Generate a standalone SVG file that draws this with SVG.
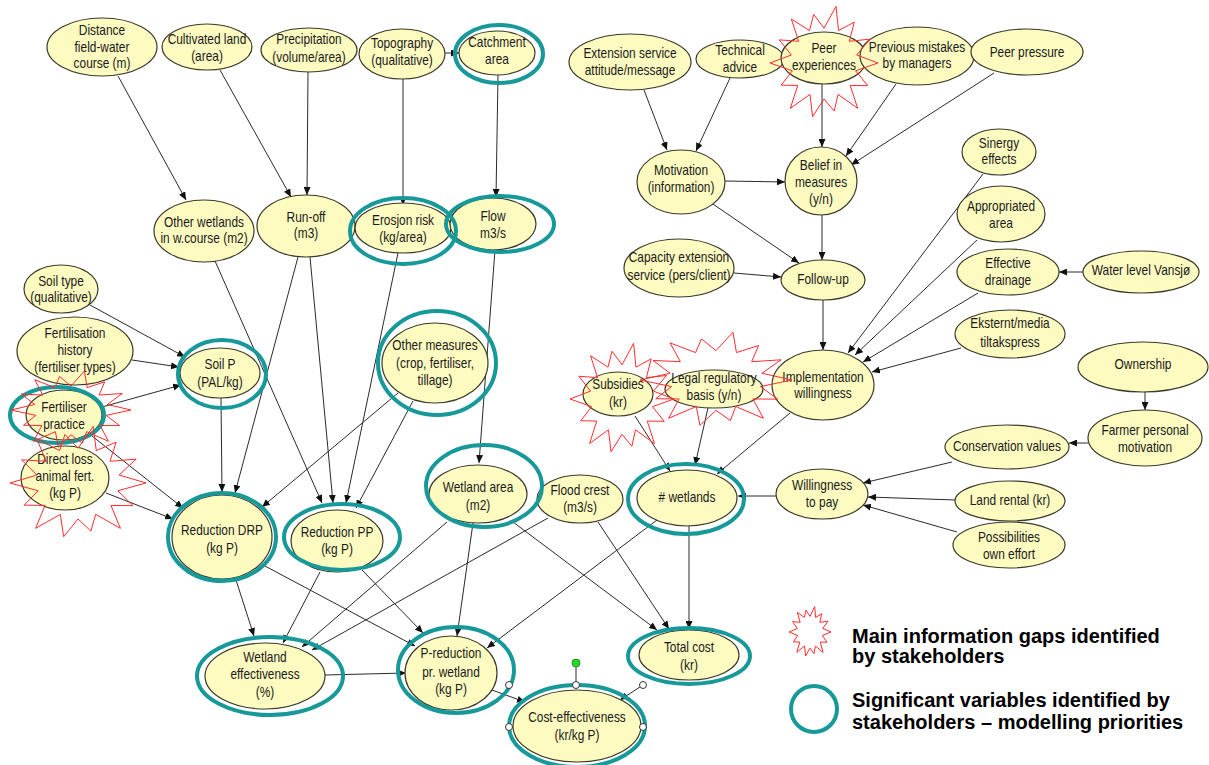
<svg xmlns="http://www.w3.org/2000/svg" xmlns:xlink="http://www.w3.org/1999/xlink" width="1209" height="765" viewBox="0 0 1209 765">
<style>
.n ellipse{fill:#fdfbc0;stroke:#3a3a2a;stroke-width:1.2}
.n text{font-family:"Liberation Sans",Arial,sans-serif;font-size:14px;fill:#1a1a1a;text-anchor:middle}
.ring{fill:none;stroke:#189999;stroke-width:4}
.burst{fill:none;stroke:#ff2d2d;stroke-width:1}
#connectors line{stroke:#2a2a2a;stroke-width:1;marker-end:url(#ah)}
.legend text{font-family:"Liberation Sans",Arial,sans-serif;font-size:20px;font-weight:bold;fill:#000}
.h{fill:#fff;stroke:#333;stroke-width:1}
</style>
<defs>
<marker id="ah" markerUnits="userSpaceOnUse" markerWidth="8" markerHeight="7" refX="8" refY="3.5" orient="auto"><path d="M0,0 L8,3.5 L0,7 z" fill="#111"/></marker>
<polygon id="burstshape" vector-effect="non-scaling-stroke" points="1,0 .585,.134 .811,.391 .485,.387 .624,.782 .26,.541 .189,.829 0,.62 -.211,.926 -.26,.541 -.624,.782 -.485,.387 -.793,.382 -.585,.134 -1,0 -.604,-.138 -.829,-.399 -.469,-.374 -.605,-.758 -.269,-.559 -.191,-.838 0,-.6 .223,-.975 .269,-.559 .561,-.704 .469,-.374 .856,-.412 .604,-.138"/>
</defs>
<rect width="1209" height="765" fill="#fff"/>
<g id="connectors">
<line x1="118" y1="76" x2="186" y2="200"/>
<line x1="220" y1="70" x2="291" y2="197"/>
<line x1="308" y1="72" x2="307" y2="195"/>
<line x1="403" y1="79" x2="403" y2="205"/>
<line x1="445" y1="53" x2="459" y2="53"/>
<line x1="498" y1="75" x2="496" y2="197"/>
<line x1="215" y1="261" x2="322" y2="503"/>
<line x1="298" y1="257" x2="235" y2="493"/>
<line x1="310" y1="257" x2="333" y2="503"/>
<line x1="398" y1="253" x2="346" y2="503"/>
<line x1="398" y1="393" x2="262" y2="507"/>
<line x1="413" y1="401" x2="356" y2="508"/>
<line x1="495" y1="250" x2="479" y2="463"/>
<line x1="90" y1="305" x2="185" y2="357"/>
<line x1="132" y1="360" x2="179" y2="367"/>
<line x1="102" y1="407" x2="181" y2="385"/>
<line x1="92" y1="436" x2="183" y2="508"/>
<line x1="106" y1="493" x2="173" y2="519"/>
<line x1="221" y1="398" x2="222" y2="492"/>
<line x1="236" y1="580" x2="254" y2="636"/>
<line x1="320" y1="572" x2="283" y2="643"/>
<line x1="447" y1="522" x2="302" y2="647"/>
<line x1="548" y1="518" x2="312" y2="650"/>
<line x1="265" y1="566" x2="415" y2="646"/>
<line x1="362" y1="570" x2="423" y2="633"/>
<line x1="473" y1="523" x2="457" y2="636"/>
<line x1="657" y1="520" x2="487" y2="648"/>
<line x1="325" y1="675" x2="406" y2="673"/>
<line x1="513" y1="522" x2="657" y2="630"/>
<line x1="598" y1="522" x2="669" y2="629"/>
<line x1="689" y1="526" x2="689" y2="629"/>
<line x1="492" y1="690" x2="525" y2="702"/>
<line x1="643" y1="685" x2="620" y2="700"/>
<line x1="635" y1="416" x2="670" y2="471"/>
<line x1="708" y1="408" x2="695" y2="465"/>
<line x1="790" y1="413" x2="717" y2="474"/>
<line x1="776" y1="496" x2="738" y2="496"/>
<line x1="952" y1="462" x2="863" y2="483"/>
<line x1="956" y1="500" x2="868" y2="497"/>
<line x1="957" y1="532" x2="863" y2="505"/>
<line x1="1088" y1="443" x2="1069" y2="443"/>
<line x1="1145" y1="392" x2="1145" y2="410"/>
<line x1="961" y1="348" x2="872" y2="372"/>
<line x1="978" y1="293" x2="863" y2="362"/>
<line x1="977" y1="240" x2="855" y2="355"/>
<line x1="983" y1="174" x2="848" y2="353"/>
<line x1="1083" y1="272" x2="1059" y2="272"/>
<line x1="823" y1="300" x2="823" y2="350"/>
<line x1="644" y1="90" x2="667" y2="150"/>
<line x1="730" y1="78" x2="696" y2="151"/>
<line x1="822" y1="84" x2="822" y2="147"/>
<line x1="896" y1="84" x2="846" y2="156"/>
<line x1="994" y1="73" x2="851" y2="165"/>
<line x1="725" y1="181" x2="785" y2="182"/>
<line x1="710" y1="202" x2="799" y2="263"/>
<line x1="822" y1="215" x2="822" y2="260"/>
<line x1="734" y1="273" x2="781" y2="277"/>
</g>
<g id="n-distance" class="n"><ellipse cx="102" cy="47" rx="55" ry="29"/><text transform="translate(102 0) scale(.85 1)"><tspan x="0" y="35">Distance</tspan><tspan x="0" y="52">field-water</tspan><tspan x="0" y="68">course (m)</tspan></text></g>
<g id="n-cultivated" class="n"><ellipse cx="207" cy="47" rx="45" ry="23"/><text transform="translate(207 0) scale(.85 1)"><tspan x="0" y="44">Cultivated land</tspan><tspan x="0" y="61">(area)</tspan></text></g>
<g id="n-precipitation" class="n"><ellipse cx="309" cy="50" rx="48" ry="22"/><text transform="translate(309 0) scale(.85 1)"><tspan x="0" y="44">Precipitation</tspan><tspan x="0" y="62">(volume/area)</tspan></text></g>
<g id="n-topography" class="n"><ellipse cx="402" cy="54" rx="43" ry="25"/><text transform="translate(402 0) scale(.85 1)"><tspan x="0" y="48">Topography</tspan><tspan x="0" y="65">(qualitative)</tspan></text></g>
<g id="n-catchment" class="n"><ellipse cx="497" cy="53" rx="38" ry="22"/><text transform="translate(497 0) scale(.85 1)"><tspan x="0" y="47">Catchment</tspan><tspan x="0" y="64">area</tspan></text></g>
<g id="n-otherwetlands" class="n"><ellipse cx="204" cy="231" rx="50" ry="31"/><text transform="translate(204 0) scale(.85 1)"><tspan x="0" y="227">Other wetlands</tspan><tspan x="0" y="243">in w.course (m2)</tspan></text></g>
<g id="n-runoff" class="n"><ellipse cx="306" cy="226" rx="49" ry="31"/><text transform="translate(306 0) scale(.85 1)"><tspan x="0" y="222">Run-off</tspan><tspan x="0" y="238">(m3)</tspan></text></g>
<g id="n-erosjon" class="n"><ellipse cx="403" cy="228" rx="48" ry="25"/><text transform="translate(403 0) scale(.85 1)"><tspan x="0" y="225">Erosjon risk</tspan><tspan x="0" y="242">(kg/area)</tspan></text></g>
<g id="n-flow" class="n"><ellipse cx="493" cy="224" rx="43" ry="26"/><text transform="translate(493 0) scale(.85 1)"><tspan x="0" y="221">Flow</tspan><tspan x="0" y="238">m3/s</tspan></text></g>
<g id="n-soiltype" class="n"><ellipse cx="61" cy="289" rx="37" ry="24"/><text transform="translate(61 0) scale(.85 1)"><tspan x="0" y="286">Soil type</tspan><tspan x="0" y="302">(qualitative)</tspan></text></g>
<g id="n-fertilisationhistory" class="n"><ellipse cx="75" cy="351" rx="58" ry="34"/><text transform="translate(75 0) scale(.85 1)"><tspan x="0" y="338">Fertilisation</tspan><tspan x="0" y="355">history</tspan><tspan x="0" y="372">(fertiliser types)</tspan></text></g>
<g id="n-soilp" class="n"><ellipse cx="220" cy="373" rx="40" ry="25"/><text transform="translate(220 0) scale(.85 1)"><tspan x="0" y="369">Soil P</tspan><tspan x="0" y="387">(PAL/kg)</tspan></text></g>
<g id="n-fertiliserpractice" class="n"><ellipse cx="64" cy="415" rx="38" ry="25"/><text transform="translate(64 0) scale(.85 1)"><tspan x="0" y="412">Fertiliser</tspan><tspan x="0" y="429">practice</tspan></text></g>
<g id="n-directloss" class="n"><ellipse cx="65" cy="478" rx="44" ry="32"/><text transform="translate(65 0) scale(.85 1)"><tspan x="0" y="464">Direct loss</tspan><tspan x="0" y="481">animal fert.</tspan><tspan x="0" y="498">(kg P)</tspan></text></g>
<g id="n-othermeasures" class="n"><ellipse cx="435" cy="363" rx="53" ry="40"/><text transform="translate(435 0) scale(.85 1)"><tspan x="0" y="350">Other measures</tspan><tspan x="0" y="368">(crop, fertiliser,</tspan><tspan x="0" y="385">tillage)</tspan></text></g>
<g id="n-reductiondrp" class="n"><ellipse cx="222" cy="537" rx="50" ry="42"/><text transform="translate(222 0) scale(.85 1)"><tspan x="0" y="535">Reduction DRP</tspan><tspan x="0" y="553">(kg P)</tspan></text></g>
<g id="n-reductionpp" class="n"><ellipse cx="337" cy="541" rx="46" ry="31"/><text transform="translate(337 0) scale(.85 1)"><tspan x="0" y="537">Reduction PP</tspan><tspan x="0" y="554">(kg P)</tspan></text></g>
<g id="n-wetlandarea" class="n"><ellipse cx="478" cy="494" rx="49" ry="29"/><text transform="translate(478 0) scale(.85 1)"><tspan x="0" y="492">Wetland area</tspan><tspan x="0" y="510">(m2)</tspan></text></g>
<g id="n-floodcrest" class="n"><ellipse cx="580" cy="499" rx="43" ry="24"/><text transform="translate(580 0) scale(.85 1)"><tspan x="0" y="495">Flood crest</tspan><tspan x="0" y="512">(m3/s)</tspan></text></g>
<g id="n-wetlands" class="n"><ellipse cx="687" cy="498" rx="50" ry="28"/><text transform="translate(687 0) scale(.85 1)"><tspan x="0" y="502"># wetlands</tspan></text></g>
<g id="n-wetlandeffectiveness" class="n"><ellipse cx="265" cy="676" rx="60" ry="33"/><text transform="translate(265 0) scale(.85 1)"><tspan x="0" y="662">Wetland</tspan><tspan x="0" y="679">effectiveness</tspan><tspan x="0" y="697">(%)</tspan></text></g>
<g id="n-preduction" class="n"><ellipse cx="451" cy="673" rx="46" ry="37"/><text transform="translate(451 0) scale(.85 1)"><tspan x="0" y="658">P-reduction</tspan><tspan x="0" y="677">pr. wetland</tspan><tspan x="0" y="694">(kg P)</tspan></text></g>
<g id="n-totalcost" class="n"><ellipse cx="689" cy="655" rx="50" ry="25"/><text transform="translate(689 0) scale(.85 1)"><tspan x="0" y="652">Total cost</tspan><tspan x="0" y="670">(kr)</tspan></text></g>
<g id="n-costeffectiveness" class="n"><ellipse cx="577" cy="726" rx="64" ry="36"/><text transform="translate(577 0) scale(.85 1)"><tspan x="0" y="722">Cost-effectiveness</tspan><tspan x="0" y="740">(kr/kg P)</tspan></text></g>
<g id="n-subsidies" class="n"><ellipse cx="618" cy="394" rx="35" ry="22"/><text transform="translate(618 0) scale(.85 1)"><tspan x="0" y="389">Subsidies</tspan><tspan x="0" y="407">(kr)</tspan></text></g>
<g id="n-legal" class="n"><ellipse cx="714" cy="389" rx="49" ry="19"/><text transform="translate(714 0) scale(.85 1)"><tspan x="0" y="383">Legal regulatory</tspan><tspan x="0" y="400">basis (y/n)</tspan></text></g>
<g id="n-implementation" class="n"><ellipse cx="823" cy="385" rx="51" ry="35"/><text transform="translate(823 0) scale(.85 1)"><tspan x="0" y="382">Implementation</tspan><tspan x="0" y="398">willingness</tspan></text></g>
<g id="n-willingness" class="n"><ellipse cx="822" cy="494" rx="46" ry="25"/><text transform="translate(822 0) scale(.85 1)"><tspan x="0" y="490">Willingness</tspan><tspan x="0" y="507">to pay</tspan></text></g>
<g id="n-conservation" class="n"><ellipse cx="1007" cy="447" rx="62" ry="22"/><text transform="translate(1007 0) scale(.85 1)"><tspan x="0" y="451">Conservation values</tspan></text></g>
<g id="n-landrental" class="n"><ellipse cx="1010" cy="501" rx="55" ry="20"/><text transform="translate(1010 0) scale(.85 1)"><tspan x="0" y="505">Land rental (kr)</tspan></text></g>
<g id="n-possibilities" class="n"><ellipse cx="1009" cy="545" rx="56" ry="23"/><text transform="translate(1009 0) scale(.85 1)"><tspan x="0" y="542">Possibilities</tspan><tspan x="0" y="559">own effort</tspan></text></g>
<g id="n-eksternt" class="n"><ellipse cx="1010" cy="334" rx="55" ry="24"/><text transform="translate(1010 0) scale(.85 1)"><tspan x="0" y="328">Eksternt/media</tspan><tspan x="0" y="347">tiltakspress</tspan></text></g>
<g id="n-ownership" class="n"><ellipse cx="1143" cy="367" rx="65" ry="25"/><text transform="translate(1143 0) scale(.85 1)"><tspan x="0" y="369">Ownership</tspan></text></g>
<g id="n-farmer" class="n"><ellipse cx="1145" cy="438" rx="57" ry="28"/><text transform="translate(1145 0) scale(.85 1)"><tspan x="0" y="435">Farmer personal</tspan><tspan x="0" y="452">motivation</tspan></text></g>
<g id="n-sinergy" class="n"><ellipse cx="999" cy="152" rx="37" ry="23"/><text transform="translate(999 0) scale(.85 1)"><tspan x="0" y="148">Sinergy</tspan><tspan x="0" y="164">effects</tspan></text></g>
<g id="n-appropriated" class="n"><ellipse cx="1001" cy="214" rx="44" ry="28"/><text transform="translate(1001 0) scale(.85 1)"><tspan x="0" y="211">Appropriated</tspan><tspan x="0" y="228">area</tspan></text></g>
<g id="n-drainage" class="n"><ellipse cx="1008" cy="272" rx="51" ry="23"/><text transform="translate(1008 0) scale(.85 1)"><tspan x="0" y="268">Effective</tspan><tspan x="0" y="285">drainage</tspan></text></g>
<g id="n-waterlevel" class="n"><ellipse cx="1141" cy="272" rx="58" ry="21"/><text transform="translate(1141 0) scale(.85 1)"><tspan x="0" y="275">Water level Vansjø</tspan></text></g>
<g id="n-extension" class="n"><ellipse cx="630" cy="62" rx="61" ry="28"/><text transform="translate(630 0) scale(.85 1)"><tspan x="0" y="58">Extension service</tspan><tspan x="0" y="75">attitude/message</tspan></text></g>
<g id="n-technical" class="n"><ellipse cx="740" cy="59" rx="44" ry="19"/><text transform="translate(740 0) scale(.85 1)"><tspan x="0" y="55">Technical</tspan><tspan x="0" y="72">advice</tspan></text></g>
<g id="n-peerexperiences" class="n"><ellipse cx="824" cy="58" rx="43" ry="26"/><text transform="translate(824 0) scale(.85 1)"><tspan x="0" y="53">Peer</tspan><tspan x="0" y="70">experiences</tspan></text></g>
<g id="n-previous" class="n"><ellipse cx="917" cy="56" rx="57" ry="29"/><text transform="translate(917 0) scale(.85 1)"><tspan x="0" y="52">Previous mistakes</tspan><tspan x="0" y="68">by managers</tspan></text></g>
<g id="n-peerpressure" class="n"><ellipse cx="1027" cy="52" rx="56" ry="23"/><text transform="translate(1027 0) scale(.85 1)"><tspan x="0" y="57">Peer pressure</tspan></text></g>
<g id="n-motivation" class="n"><ellipse cx="681" cy="182" rx="44" ry="32"/><text transform="translate(681 0) scale(.85 1)"><tspan x="0" y="175">Motivation</tspan><tspan x="0" y="192">(information)</tspan></text></g>
<g id="n-belief" class="n"><ellipse cx="821" cy="181" rx="36" ry="34"/><text transform="translate(821 0) scale(.85 1)"><tspan x="0" y="170">Belief in</tspan><tspan x="0" y="187">measures</tspan><tspan x="0" y="204">(y/n)</tspan></text></g>
<g id="n-capacity" class="n"><ellipse cx="679" cy="268" rx="55" ry="29"/><text transform="translate(679 0) scale(.85 1)"><tspan x="0" y="262">Capacity extension</tspan><tspan x="0" y="280">service (pers/client)</tspan></text></g>
<g id="n-followup" class="n"><ellipse cx="823" cy="280" rx="42" ry="20"/><text transform="translate(823 0) scale(.85 1)"><tspan x="0" y="284">Follow-up</tspan></text></g>
<g id="highlights">
<ellipse class="ring" cx="499" cy="54" rx="44" ry="29"/>
<ellipse class="ring" cx="403" cy="231" rx="53" ry="33"/>
<ellipse class="ring" cx="500" cy="224" rx="54" ry="28"/>
<ellipse class="ring" cx="222" cy="374" rx="44" ry="34"/>
<ellipse class="ring" cx="57" cy="415" rx="47" ry="28"/>
<ellipse class="ring" cx="437" cy="363" rx="59" ry="52"/>
<ellipse class="ring" cx="222" cy="537" rx="54" ry="44"/>
<ellipse class="ring" cx="342" cy="537" rx="58" ry="33"/>
<ellipse class="ring" cx="484" cy="486" rx="58" ry="41"/>
<ellipse class="ring" cx="686" cy="499" rx="58" ry="35"/>
<ellipse class="ring" cx="270" cy="676" rx="73" ry="39"/>
<ellipse class="ring" cx="456" cy="670" rx="58" ry="43"/>
<ellipse class="ring" cx="689" cy="656" rx="61" ry="28"/>
<ellipse class="ring" cx="577" cy="726" rx="68" ry="41"/>
<use class="burst" xlink:href="#burstshape" transform="translate(824 63) scale(54 58)"/>
<use class="burst" xlink:href="#burstshape" transform="translate(71 410) scale(60 40)"/>
<use class="burst" xlink:href="#burstshape" transform="translate(78 483) scale(68 58)"/>
<use class="burst" xlink:href="#burstshape" transform="translate(622 399) scale(52 57)"/>
<use class="burst" xlink:href="#burstshape" transform="translate(716 380) scale(76 49)"/>
</g>
<g id="selection">
<line x1="576" y1="667" x2="576" y2="682" stroke="#333" stroke-width="1"/>
<circle cx="576" cy="663" r="4" fill="#22dd22" stroke="#1a7a1a" stroke-width="0.8"/>
<circle class="h" cx="509" cy="685" r="3.5"/>
<circle class="h" cx="576" cy="685" r="3.5"/>
<circle class="h" cx="643" cy="685" r="3.5"/>
<circle class="h" cx="509" cy="727" r="3.5"/>
<circle class="h" cx="643" cy="727" r="3.5"/>
</g>
<g id="legend" class="legend">
<use class="burst" xlink:href="#burstshape" transform="translate(810 632) scale(21 26)"/>
<text x="852" y="643">Main information gaps identified</text>
<text x="852" y="663">by stakeholders</text>
<circle class="ring" cx="814" cy="709" r="23"/>
<text x="852" y="707">Significant variables identified by</text>
<text x="852" y="729">stakeholders – modelling priorities</text>
</g>
</svg>
